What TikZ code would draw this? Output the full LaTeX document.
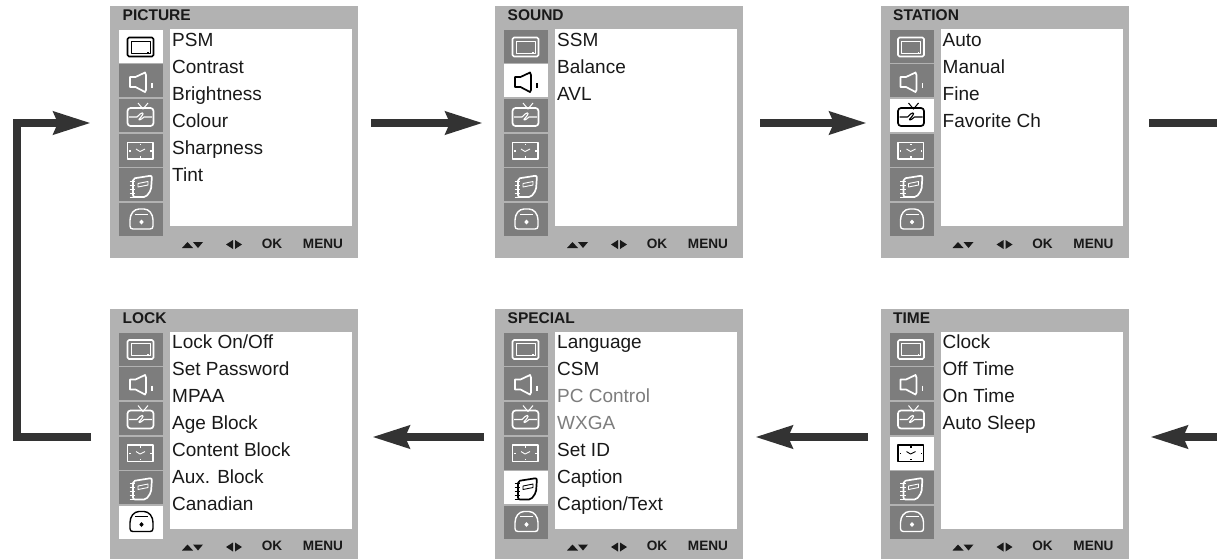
\documentclass[tikz,border=0pt]{standalone}
\usepackage{fontspec}
\setmainfont{Liberation Sans}
\usetikzlibrary{arrows.meta}
\definecolor{panelgray}{RGB}{178,178,178}
\definecolor{cellgray}{RGB}{125,125,125}
\definecolor{arrowdark}{RGB}{51,51,51}
\definecolor{dimtext}{RGB}{125,125,125}
\tikzset{
 panelbox/.style={fill=panelgray,draw=none,minimum width=248pt,minimum height=252pt,inner sep=0pt,outer sep=0pt,anchor=north west},
 listbox/.style={fill=white,draw=none,minimum width=182pt,minimum height=197pt,inner sep=0pt,outer sep=0pt,anchor=north west},
 titletext/.style={font=\fontsize{15.5}{17}\selectfont\bfseries,inner sep=0pt,anchor=west,text=black!90},
 itemtext/.style={font=\fontsize{19}{21}\selectfont,inner sep=0pt,anchor=base west,text=black!90},
 dimitem/.style={itemtext,text=dimtext},
 foottext/.style={font=\fontsize{13.6}{15}\selectfont\bfseries,inner sep=0pt,anchor=center,text=black!90},
 ic/.style={line width=1.7pt,line join=round},
 flow/.style={draw=arrowdark,line width=8pt,-{Stealth[length=37pt,width=22pt,inset=4pt,fill=arrowdark]}},
 flowplain/.style={draw=arrowdark,line width=8pt,line join=miter},
}
\newcommand{\iconset}[3]{%
 \foreach \i/\t in {1/0,2/34,3/69,4/104,5/138,6/173}{%
  \ifnum\i=#3\relax\def\cc{white}\def\ic{black}\else\def\cc{cellgray}\def\ic{white}\fi
  \begin{scope}[shift={(#1,#2)}]
   \fill[\cc] (9,24+\t) rectangle (53,57+\t);
   \ifcase\i\or
    \draw[ic,draw=\ic,rounded corners=1.5pt] (17.5,31.5) rectangle (43.5,50.5);
    \draw[ic,draw=\ic,line width=.9pt] (21,35) rectangle (40,47);
    \fill[\ic] (37,45.5) rectangle (38.5,47);
   \or
    \draw[ic,draw=\ic] (20,71) -- (25.5,71) -- (35,66.5) -- (36,69) -- (36,84) -- (35,86) -- (25.5,81) -- (20,81) -- cycle;
    \draw[ic,draw=\ic,line width=1.9pt] (42,77) -- (42,82);
   \or
    \draw[ic,draw=\ic,rounded corners=3pt] (17.5,102) rectangle (43.5,120);
    \draw[ic,draw=\ic,line width=1pt] (28,97) -- (33,103) -- (38,97);
    \draw[ic,draw=\ic,line width=1.1pt] (19,111) -- (27,111) .. controls (31,106) and (36,105) .. (31,111) .. controls (26,116) and (31,114) .. (34,111) -- (42,111);
   \or
    \draw[ic,draw=\ic,line width=1.2pt] (17.5,136.5) rectangle (43,153);
    \draw[ic,draw=\ic,line width=.9pt] (26,143) -- (30,145.5) -- (35,143);
    \foreach \dx/\dy in {30.5/138.5,30.5/151,20/145,41/145}{\fill[\ic] (\dx-.9,\dy-.9) rectangle (\dx+.9,\dy+.9);}
   \or
    \draw[ic,draw=\ic,rounded corners=2pt] (23,172.5) -- (42,169.5) -- (41,184) -- (36,191) -- (23,191) -- cycle;
    \draw[ic,draw=\ic,line width=.9pt] (28,177.5) -- (38,175.5) -- (38,179) -- (28,181) -- cycle;
    \foreach \dy in {175,179,183,187,191}{\draw[ic,draw=\ic,line width=.9pt] (19.5,\dy) -- (25,\dy);}
   \or
    \draw[ic,draw=\ic,line width=1.4pt] (23,223) -- (40,223) .. controls (42,223) and (43,222) .. (43,220) -- (43,214) .. controls (43,208) and (39,203) .. (34,203) -- (29,203) .. controls (24,203) and (20,208) .. (20,214) -- (20,220) .. controls (20,222) and (21,223) .. (23,223) -- cycle;
    \draw[ic,draw=\ic,line width=1pt] (25,208) -- (38,208);
    \fill[\ic] (31.5,213.5) -- (33.7,216) -- (31.5,218.5) -- (29.3,216) -- cycle;
   \fi
  \end{scope}}%
}
\newcommand{\footer}[3]{%
 \begin{scope}[shift={(#1,#2)}]
  \fill[black!90] (72,242) -- (77.5,236) -- (83,242) -- cycle;
  \fill[black!90] (83,236) -- (93,236) -- (88,242) -- cycle;
  \fill[black!90] (116,238.5) -- (123,234) -- (123,243) -- cycle;
  \fill[black!90] (125,234) -- (132,238.5) -- (125,243) -- cycle;
  \node[foottext] (#3ok) at (162,237.5) {OK};
  \node[foottext] (#3menu) at (213,237.5) {MENU};
 \end{scope}}
\newcommand{\panel}[5]{% x, y, active, name, title
 \node[panelbox] (#4) at (#1,#2) {};
 \node[listbox] (#4list) at (#1+60,#2+23) {};
 \node[titletext] (#4title) at (#1+12.5,#2+9.5) {#5};
 \iconset{#1}{#2}{#3}
 \footer{#1}{#2}{#4}}
\newcounter{itemno}
\newcommand{\items}[2]{% list node, items
 \setcounter{itemno}{0}%
 \foreach \txt/\sty in {#2}{%
  \node[\sty] (#1i\arabic{itemno}) at ([xshift=2pt,yshift=-17pt-\value{itemno}*27pt]#1list.north west) {\txt};
  \global\addtocounter{itemno}{1}}}
\begin{document}
\begin{tikzpicture}[x=1pt,y=-1pt]
\useasboundingbox (0,0) rectangle (1217,558);
\panel{110}{6}{1}{picture}{PICTURE}
\panel{495}{6}{2}{sound}{SOUND}
\panel{880.5}{6}{3}{station}{STATION}
\panel{110}{308.5}{6}{lock}{LOCK}
\panel{495}{308.5}{5}{special}{SPECIAL}
\panel{880.5}{308.5}{4}{timep}{TIME}
\items{picture}{PSM/itemtext,Contrast/itemtext,Brightness/itemtext,Colour/itemtext,Sharpness/itemtext,Tint/itemtext}
\items{sound}{SSM/itemtext,Balance/itemtext,AVL/itemtext}
\items{station}{Auto/itemtext,Manual/itemtext,Fine/itemtext,Favorite Ch/itemtext}
\items{lock}{Lock On{/}Off/itemtext,Set Password/itemtext,MPAA/itemtext,Age Block/itemtext,Content Block/itemtext,Aux. Block/itemtext,Canadian/itemtext}
\items{special}{Language/itemtext,CSM/itemtext,PC Control/dimitem,WXGA/dimitem,Set ID/itemtext,Caption/itemtext,Caption{/}Text/itemtext}
\items{timep}{Clock/itemtext,Off Time/itemtext,On Time/itemtext,Auto Sleep/itemtext}
\coordinate (a1s) at (371,123); \coordinate (a1e) at (483,123);
\coordinate (a2s) at (760,123); \coordinate (a2e) at (867,123);
\coordinate (a3s) at (1149,123); \coordinate (a3e) at (1217,123);
\coordinate (a4s) at (1217,437); \coordinate (a4e) at (1150,437);
\coordinate (a5s) at (868,437); \coordinate (a5e) at (755,437);
\coordinate (a6s) at (484,437); \coordinate (a6e) at (372,437);
\coordinate (a7s) at (91,437); \coordinate (a7b) at (17,437); \coordinate (a7c) at (17,123); \coordinate (a7e) at (91,123);
\draw[flow] (a1s) -- (a1e);
\draw[flow] (a2s) -- (a2e);
\draw[flowplain] (a3s) -- (a3e);
\draw[flow] (a4s) -- (a4e);
\draw[flow] (a5s) -- (a5e);
\draw[flow] (a6s) -- (a6e);
\draw[flow] (a7s) -- (a7b) -- (a7c) -- (a7e);
\end{tikzpicture}
\end{document}
